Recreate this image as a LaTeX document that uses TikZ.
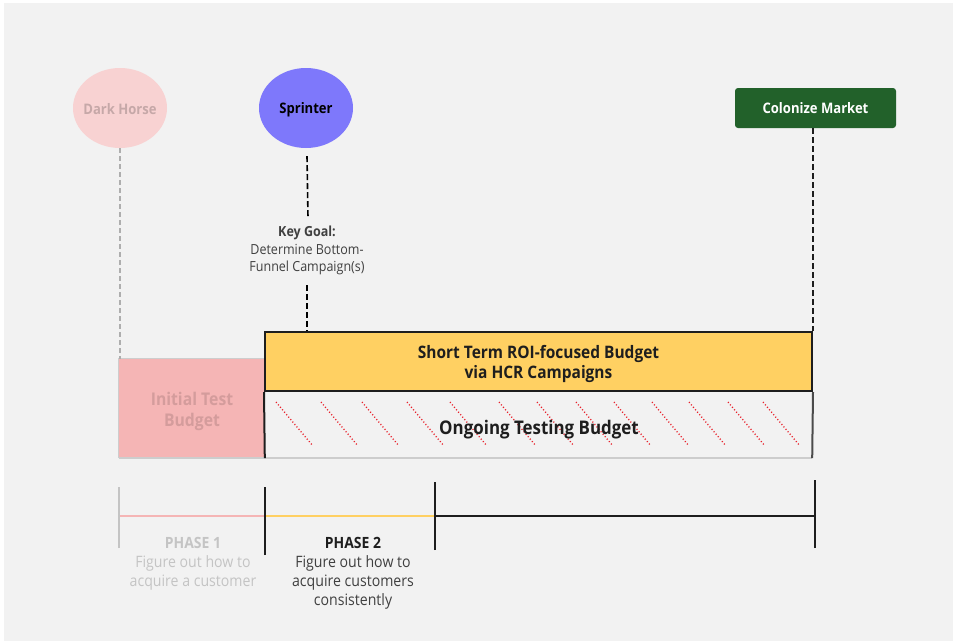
\documentclass[tikz,border=0pt]{standalone}
\usepackage{fontspec}
\setmainfont{Open Sans}[FakeStretch=0.9]
\usetikzlibrary{shapes.geometric}
\definecolor{canvas}{HTML}{F2F2F2}
\definecolor{horsefill}{HTML}{F8D2D2}
\definecolor{horsetext}{HTML}{C6A8A8}
\definecolor{sprintfill}{HTML}{7E78FB}
\definecolor{marketgreen}{HTML}{22612A}
\definecolor{roiyellow}{HTML}{FFD062}
\definecolor{testpink}{HTML}{F5B5B5}
\definecolor{testtext}{HTML}{D49C9C}
\definecolor{edgegray}{HTML}{CDCDCD}
\definecolor{fadetext}{HTML}{C4C4C4}
\definecolor{hatchred}{HTML}{E8222C}
\definecolor{ink}{HTML}{1E1E1E}
\tikzset{
  persona/.style={ellipse, minimum width=94pt, minimum height=80pt, inner sep=0pt},
  personatext/.style={font=\fontsize{14.5}{16}\selectfont\bfseries, inner sep=0pt, yshift=-1.5pt},
  goalbox/.style={rectangle, rounded corners=3pt, fill=marketgreen, text=white,
    minimum width=161pt, minimum height=40pt, inner sep=0pt,
    font=\fontsize{14.5}{16}\selectfont\bfseries},
  boxtext/.style={align=center, inner sep=0pt, yshift=-2.5pt},
  guide/.style={dashed, line width=1.6pt, dash pattern=on 6pt off 3pt},
  softguide/.style={line width=1.4pt, draw=edgegray!85!black, dash pattern=on 5pt off 3pt},
  hatch/.style={draw=hatchred, line width=1.3pt, dash pattern=on 1.1pt off 2.1pt},
  tick/.style={line width=1.6pt},
  phasehead/.style={font=\fontsize{15.5}{17}\selectfont\bfseries, inner sep=0pt},
  phasebody/.style={font=\fontsize{15.7}{19.3}\selectfont, align=center, inner sep=0pt},
}
\begin{document}
\begin{tikzpicture}[x=1pt, y=-1pt]
  % canvas
  \useasboundingbox (0,0) rectangle (953,641);
  \fill[white] (0,0) rectangle (953,641);
  \fill[canvas] (4,3) rectangle (953,641);

  % personas and goal
  \node[persona, fill=horsefill,
    label={[personatext, text=horsetext]center:Dark Horse}] (dh) at (120,108) {};
  \node[persona, fill=sprintfill,
    label={[personatext, text=black]center:Sprinter}] (sp) at (306,108) {};
  \node[goalbox] (cm) at (815.5,108) {Colonize Market};

  % budgets
  \node[rectangle, fill=testpink, minimum width=146pt, minimum height=99pt, inner sep=0pt,
    label={[boxtext, text=testtext, font=\fontsize{17.5}{21}\selectfont\bfseries]
      center:{Initial Test\\Budget}}]
    (ib) at (192,408.5) {};
  \draw[edgegray, line width=1.2pt] (ib.south west) -- (ib.north west) -- (ib.north east);

  \node[rectangle, fill=roiyellow, draw=ink, line width=2pt, minimum width=547pt,
    minimum height=59pt, inner sep=0pt,
    label={[boxtext, text=ink, font=\fontsize{17.2}{20}\selectfont\bfseries]
      center:{Short Term ROI-focused Budget\\via HCR Campaigns}}]
    (yb) at (538.5,361.5) {};

  \node[rectangle, minimum width=547pt, minimum height=67pt, inner sep=0pt]
    (ob) at (538.5,424.5) {};
  % hatching of the testing budget
  \foreach \sx in {276,321,362,407,450,499,537,576,614,652,689,728,763}
    \draw[hatch] (\sx,402) -- ++(37,44);
  \node[text=ink, font=\fontsize{18.8}{22}\selectfont\bfseries] (obl) at (539,430)
    {Ongoing Testing Budget};
  \draw[edgegray, line width=1.6pt] (ib.south west) -- (ob.south east);
  \draw[ink, line width=2pt] (yb.south west) -- (ob.south west);
  \draw[ink!80, line width=2pt] (yb.south east) -- (ob.south east);

  % guides from personas
  \draw[softguide] (dh.south) -- (dh.south |- ib.north);
  \node[align=center, inner sep=0pt, text=ink!85,
    font=\fontsize{13.9}{17.5}\selectfont] (kg) at (307,250.5)
    {\textbf{Key Goal:}\\Determine Bottom-\\Funnel Campaign(s)};
  \draw[guide] ([shift={(1pt,-8pt)}]sp.south) -- ([xshift=1pt,yshift=8pt]kg.north);
  \draw[guide] ([yshift=-10pt]kg.south) -- (kg.south |- yb.north);
  \draw[guide, ink] (yb.north east |- cm.south) -- (yb.north east);

  % timeline
  \coordinate (t0) at (119,516);
  \coordinate (t1) at (265,516);
  \coordinate (t2) at (435,516);
  \coordinate (t3) at (815,516);
  \draw[testpink, line width=1.8pt] (t0) -- (t1);
  \draw[roiyellow, line width=1.8pt] (t1) -- (t2);
  \draw[ink, line width=1.8pt] (t2) -- (t3);
  \draw[tick, fadetext] ([yshift=-32pt]t0) -- ([yshift=29pt]t0);
  \draw[tick, ink] ([yshift=-39pt]t1) -- ([yshift=29pt]t1);
  \draw[tick, ink] ([yshift=-34pt]t2) -- ([yshift=34pt]t2);
  \draw[tick, ink] ([yshift=-32pt]t3) -- ([yshift=36pt]t3);

  % phase captions
  \node[phasehead, text=fadetext] (p1) at (193,543) {PHASE 1};
  \node[phasebody, text=fadetext] (p1t) at (193,573)
    {Figure out how to\\acquire a customer};
  \node[phasehead, text=ink] (p2) at (353,543) {PHASE 2};
  \node[phasebody, text=ink!85] (p2t) at (353,582.5)
    {Figure out how to\\acquire customers\\consistently};
\end{tikzpicture}
\end{document}
